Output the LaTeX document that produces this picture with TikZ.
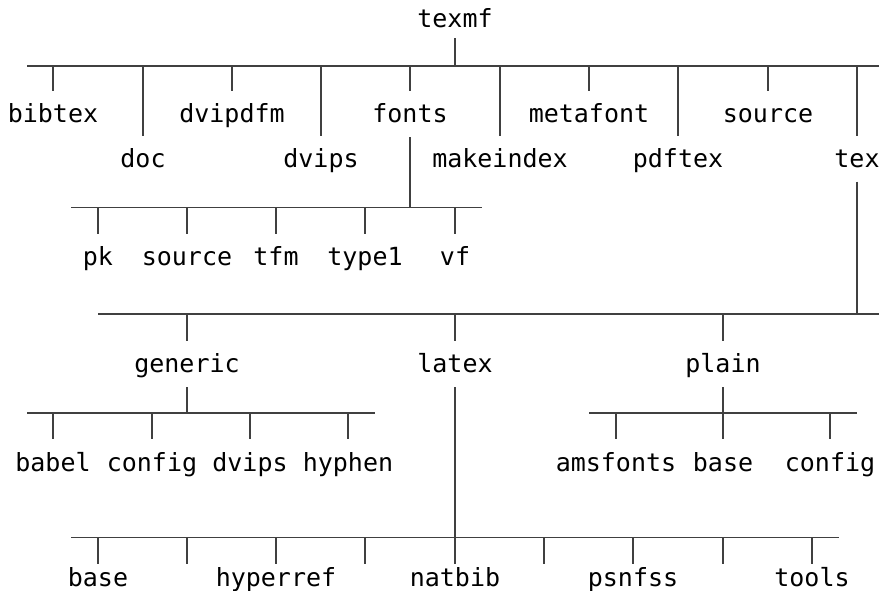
\documentclass[tikz,border=0pt]{standalone}
\usepackage{fontspec}
\setmonofont{DejaVu Sans Mono}
\begin{document}
\begin{tikzpicture}[x=1pt,y=-1pt,
  lbl/.style={anchor=base,inner sep=0pt,font=\ttfamily\fontsize{25}{30}\selectfont},
  conn/.style={draw=black!75,line width=1.1pt}]
\useasboundingbox (0,0) rectangle (879,590);
% ---------- level 0
\node[lbl] (texmf) at (455,27) {texmf};
\coordinate (texmfT) at (455,38);
\coordinate (barA) at (0,66);
\coordinate (barAL) at (27,66);
\coordinate (barAR) at (879,66);
\coordinate (shortA) at (0,91);
\coordinate (longA) at (0,136);
% ---------- level 1
\node[lbl] (bibtex)    at (53,122.5)  {bibtex};
\node[lbl] (doc)       at (143,167.5) {doc};
\node[lbl] (dvipdfm)   at (232,122.5) {dvipdfm};
\node[lbl] (dvips)     at (321,167.5) {dvips};
\node[lbl] (fonts)     at (410,122.5) {fonts};
\node[lbl] (makeindex) at (500,167.5) {makeindex};
\node[lbl] (metafont)  at (589,122.5) {metafont};
\node[lbl] (pdftex)    at (678,167.5) {pdftex};
\node[lbl] (source)    at (768,122.5) {source};
\node[lbl] (tex)       at (857,167.5) {tex};
\draw[conn] (texmfT) -- (texmf |- barA);
\draw[conn] (barAL) -- (barAR);
\foreach \n in {bibtex,dvipdfm,fonts,metafont,source}
  \draw[conn] (\n |- barA) -- (\n |- shortA);
\foreach \n in {doc,dvips,makeindex,pdftex,tex}
  \draw[conn] (\n |- barA) -- (\n |- longA);
% ---------- fonts subtree
\coordinate (fontsB) at (410,137);
\coordinate (barF) at (0,207.5);
\coordinate (barFL) at (71,207.5);
\coordinate (barFR) at (482,207.5);
\coordinate (endF) at (0,234);
\node[lbl] (pk)      at (98,265)  {pk};
\node[lbl] (fsource) at (187,265) {source};
\node[lbl] (tfm)     at (276,265) {tfm};
\node[lbl] (type1)   at (365,265) {type1};
\node[lbl] (vf)      at (455,265) {vf};
\draw[conn] (fontsB) -- (fonts |- barF);
\draw[conn] (barFL) -- (barFR);
\foreach \n in {pk,fsource,tfm,type1,vf}
  \draw[conn] (\n |- barF) -- (\n |- endF);
% ---------- tex subtree
\coordinate (texB) at (857,181.5);
\coordinate (barT) at (0,314);
\coordinate (barTL) at (98,314);
\coordinate (barTR) at (879,314);
\coordinate (endT) at (0,341);
\node[lbl] (generic) at (187,372.5) {generic};
\node[lbl] (latex)   at (455,372.5) {latex};
\node[lbl] (plain)   at (723,372.5) {plain};
\draw[conn] (texB) -- (tex |- barT);
\draw[conn] (barTL) -- (barTR);
\foreach \n in {generic,latex,plain}
  \draw[conn] (\n |- barT) -- (\n |- endT);
% ---------- generic subtree
\coordinate (subB) at (0,387);
\coordinate (barG) at (0,413);
\coordinate (barGL) at (27,413);
\coordinate (barGR) at (375,413);
\coordinate (endG) at (0,439);
\node[lbl] (babel)   at (53,471.5)  {babel};
\node[lbl] (gconfig) at (152,471.5) {config};
\node[lbl] (gdvips)  at (250,471.5) {dvips};
\node[lbl] (hyphen)  at (348,471.5) {hyphen};
\draw[conn] (generic |- subB) -- (generic |- barG);
\draw[conn] (barGL) -- (barGR);
\foreach \n in {babel,gconfig,gdvips,hyphen}
  \draw[conn] (\n |- barG) -- (\n |- endG);
% ---------- plain subtree
\coordinate (barPL) at (589,413);
\coordinate (barPR) at (857,413);
\node[lbl] (amsfonts) at (616,471.5) {amsfonts};
\node[lbl] (pbase)    at (723,471.5) {base};
\node[lbl] (pconfig)  at (830,471.5) {config};
\draw[conn] (plain |- subB) -- (plain |- barG);
\draw[conn] (barPL) -- (barPR);
\foreach \n in {amsfonts,pbase,pconfig}
  \draw[conn] (\n |- barG) -- (\n |- endG);
% ---------- latex subtree
\coordinate (barL) at (0,537.5);
\coordinate (barLL) at (71,537.5);
\coordinate (barLR) at (839,537.5);
\coordinate (endL) at (0,564);
\node[lbl] (lbase)    at (98,586.5)  {base};
\node[lbl] (hyperref) at (276,586.5) {hyperref};
\node[lbl] (natbib)   at (455,586.5) {natbib};
\node[lbl] (psnfss)   at (633,586.5) {psnfss};
\node[lbl] (tools)    at (812,586.5) {tools};
\coordinate (lx2) at (187,564);
\coordinate (lx4) at (365,564);
\coordinate (lx6) at (544,564);
\coordinate (lx8) at (723,564);
\draw[conn] (latex |- subB) -- (latex |- barL);
\draw[conn] (barLL) -- (barLR);
\foreach \n in {lbase,hyperref,natbib,psnfss,tools}
  \draw[conn] (\n |- barL) -- (\n |- endL);
\foreach \n in {lx2,lx4,lx6,lx8}
  \draw[conn] (\n |- barL) -- (\n);
\end{tikzpicture}
\end{document}
